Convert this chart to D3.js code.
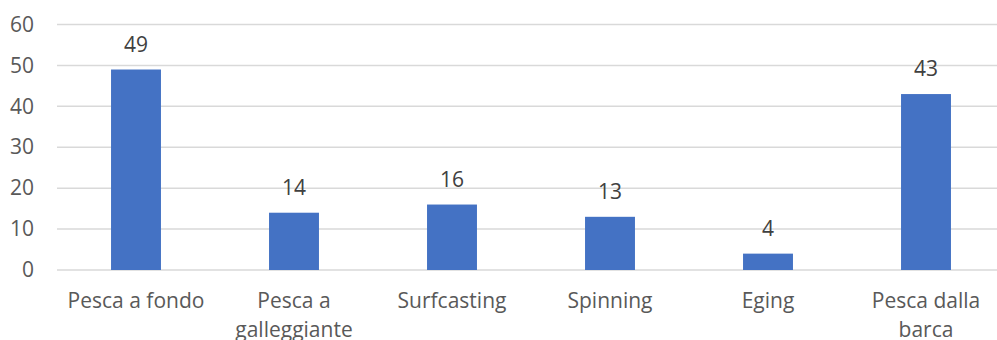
<!DOCTYPE html>
<html>
<head>
<meta charset="utf-8">
<script src="https://cdn.jsdelivr.net/npm/d3@7"></script>
<style>
  html, body { margin: 0; padding: 0; background: #ffffff; }
  svg { display: block; }
  text { font-family: "Open Sans", Lato, sans-serif; }
</style>
</head>
<body>
<svg id="chart" width="997" height="340"></svg>
<script>
// Fishing techniques and their counts
const categories = [
  ["Pesca a fondo"],
  ["Pesca a", "galleggiante"],
  ["Surfcasting"],
  ["Spinning"],
  ["Eging"],
  ["Pesca dalla", "barca"]
];
const values = [49, 14, 16, 13, 4, 43];
const yTicks = [0, 10, 20, 30, 40, 50, 60];

const W = 997, H = 340;
const plotLeft = 57, plotRight = 1005, plotTop = 24.5, plotBottom = 270;
const fontSize = 21;

const svg = d3.select("#chart");

const x = d3.scaleBand()
  .domain(d3.range(categories.length))
  .range([plotLeft, plotRight])
  .paddingInner(0.684)
  .paddingOuter(0.342);

const y = d3.scaleLinear().domain([0, 60]).range([plotBottom, plotTop]);

// horizontal gridlines
svg.append("g")
  .selectAll("line")
  .data(yTicks)
  .join("line")
  .attr("x1", plotLeft)
  .attr("x2", W)
  .attr("y1", d => y(d))
  .attr("y2", d => y(d))
  .attr("stroke", "#d9d9d9")
  .attr("stroke-width", 1.5);

// y axis labels
const yAxis = d3.axisLeft(y).tickValues(yTicks).tickSize(0).tickPadding(0);
const gy = svg.append("g").attr("transform", "translate(34,0)").call(yAxis);
gy.select(".domain").remove();
gy.selectAll("text")
  .attr("font-size", fontSize)
  .attr("fill", "#595959")
  .style("font-family", "'Open Sans', Lato, sans-serif");

// bars
svg.append("g")
  .selectAll("rect")
  .data(values)
  .join("rect")
  .attr("x", (d, i) => x(i))
  .attr("y", d => y(d))
  .attr("width", x.bandwidth())
  .attr("height", d => y(0) - y(d))
  .attr("fill", "#4472c4");

// value labels
svg.append("g")
  .selectAll("text")
  .data(values)
  .join("text")
  .attr("x", (d, i) => x(i) + x.bandwidth() / 2)
  .attr("y", d => y(d) - 18)
  .attr("text-anchor", "middle")
  .attr("font-size", fontSize)
  .attr("fill", "#404040")
  .text(d => d);

// category labels
const cat = svg.append("g")
  .selectAll("text")
  .data(categories)
  .join("text")
  .attr("text-anchor", "middle")
  .attr("font-size", fontSize)
  .attr("fill", "#595959")
  .attr("x", (d, i) => x(i) + x.bandwidth() / 2)
  .attr("y", 308);
cat.selectAll("tspan")
  .data(d => d)
  .join("tspan")
  .attr("x", function () { return d3.select(this.parentNode).attr("x"); })
  .attr("dy", (d, i) => i === 0 ? 0 : 29)
  .text(d => d);
</script>
</body>
</html>
